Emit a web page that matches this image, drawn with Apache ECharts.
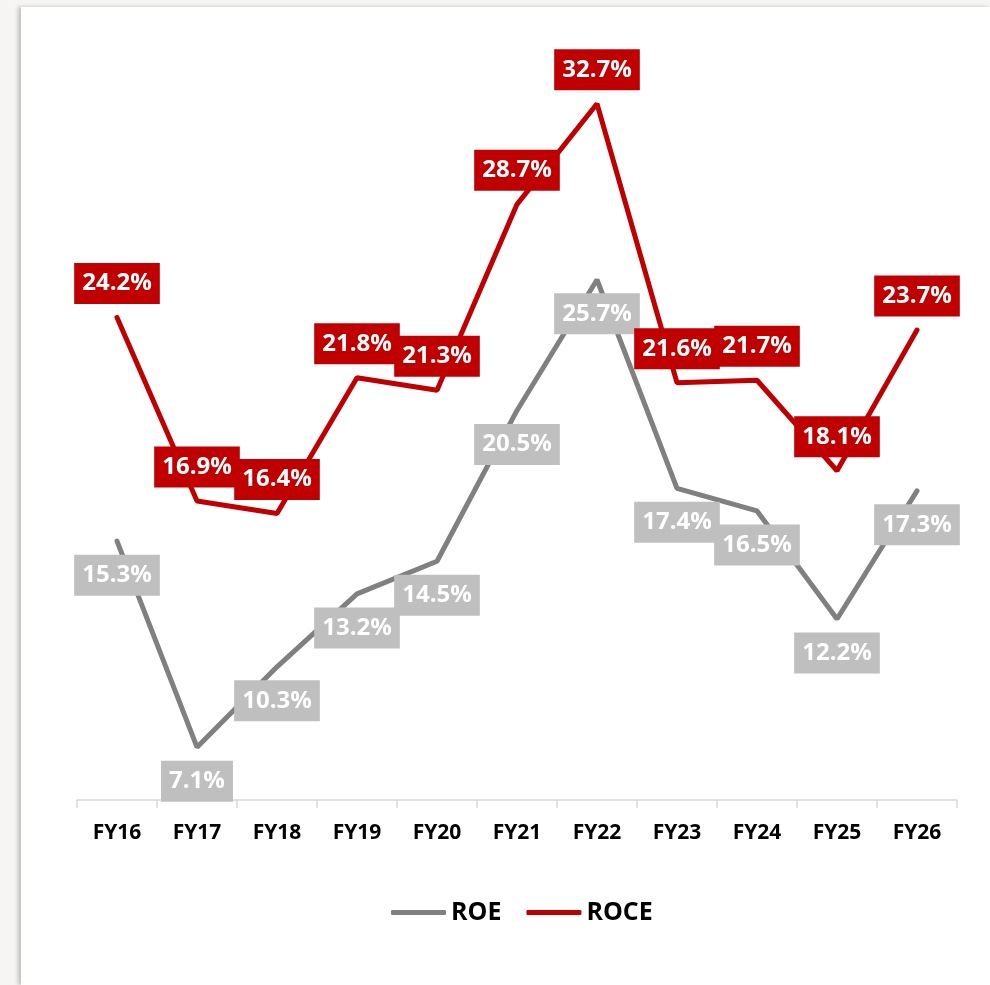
<!DOCTYPE html>
<html>
<head>
<meta charset="utf-8">
<script src="https://cdn.jsdelivr.net/npm/echarts@6/dist/echarts.min.js"></script>
<style>
  html, body { margin: 0; padding: 0; width: 990px; height: 985px; overflow: hidden; background: #f6f5f3; }
  #panel { position: absolute; left: 21px; top: 7px; right: 0; bottom: 0; background: #ffffff;
           box-shadow: -3px 0 4px rgba(0,0,0,0.22); }
  #chart { position: absolute; left: 0; top: 0; width: 990px; height: 985px; }
</style>
</head>
<body>
<div id="panel"></div>
<div id="chart"></div>
<script>
// Fiscal years on the category axis
const years = ['FY16', 'FY17', 'FY18', 'FY19', 'FY20', 'FY21', 'FY22', 'FY23', 'FY24', 'FY25', 'FY26'];
// Return on equity, %
const roe = [15.3, 7.1, 10.3, 13.2, 14.5, 20.5, 25.7, 17.4, 16.5, 12.2, 17.3];
// Return on capital employed, %
const roce = [24.2, 16.9, 16.4, 21.8, 21.3, 28.7, 32.7, 21.6, 21.7, 18.1, 23.7];

const FONT = '"Open Sans", "Noto Sans", sans-serif';
const GREY_LINE = '#808080';
const GREY_BOX = '#bfbfbf';
const RED = '#c00000';

function pct(p) { return p.value.toFixed(1) + '%'; }

function boxLabel(pos, bg) {
  return {
    show: true,
    position: pos,
    distance: 13,
    formatter: pct,
    color: '#ffffff',
    fontFamily: FONT,
    fontWeight: 'bold',
    fontSize: 24,
    lineHeight: 25,
    backgroundColor: bg,
    padding: [8, 8, 8, 8]
  };
}

const chart = echarts.init(document.getElementById('chart'), null, { renderer: 'canvas' });
chart.setOption({
  backgroundColor: 'transparent',
  animation: false,
  grid: { left: 77, right: 33, top: 46, bottom: 185 },
  legend: {
    left: 386,
    top: 895,
    itemWidth: 55,
    itemHeight: 5,
    itemGap: 25,
    icon: 'roundRect',
    textStyle: { fontFamily: FONT, fontWeight: 'bold', fontSize: 25, color: '#000000' },
    data: ['ROE', 'ROCE']
  },
  xAxis: {
    type: 'category',
    data: years,
    axisLine: { lineStyle: { color: '#d9d9d9', width: 1.5 } },
    axisTick: { show: true, length: 8, lineStyle: { color: '#d9d9d9', width: 1.5 } },
    axisLabel: { margin: 23, fontFamily: FONT, fontWeight: 'bold', fontSize: 21, color: '#000000' }
  },
  yAxis: {
    type: 'value',
    min: 5,
    max: 35,
    show: false,
    splitLine: { show: false }
  },
  series: [
    {
      name: 'ROE',
      type: 'line',
      data: roe,
      symbol: 'circle',
      symbolSize: 1,
      showSymbol: true,
      itemStyle: { color: GREY_LINE },
      lineStyle: { color: GREY_LINE, width: 5, cap: 'round' },
      label: boxLabel('bottom', GREY_BOX),
      z: 2
    },
    {
      name: 'ROCE',
      type: 'line',
      data: roce,
      symbol: 'circle',
      symbolSize: 1,
      showSymbol: true,
      itemStyle: { color: RED },
      lineStyle: { color: RED, width: 5, cap: 'round' },
      label: boxLabel('top', RED),
      z: 3
    }
  ]
});
</script>
</body>
</html>
